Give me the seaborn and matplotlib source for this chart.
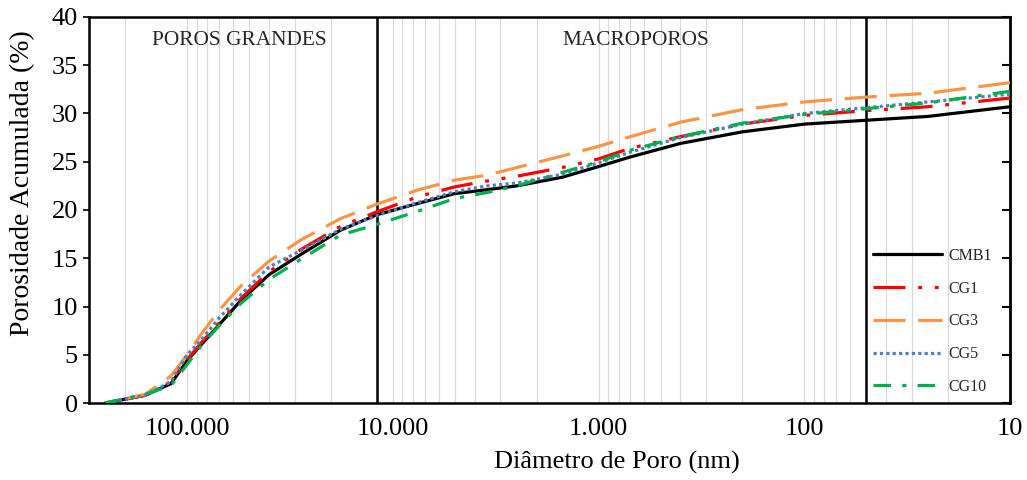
import matplotlib
matplotlib.use("Agg")
import matplotlib.pyplot as plt
from matplotlib.ticker import FixedLocator, LogLocator, NullFormatter
import numpy as np
import pandas as pd
import seaborn as sns

# pore diameter (nm) and cumulative porosity (%)
diametro = [250000, 160000, 120000, 100000, 85000, 70000, 55000, 40000, 28000, 18000,
            12000, 7500, 5000, 3500, 2500, 1500, 1000, 700, 400, 200, 100, 50, 25, 10]
cmb1 = [0, 0.8, 2.0, 4.4, 6.1, 8.1, 10.6, 13.3, 15.4, 17.9,
        19.5, 20.7, 21.7, 22.1, 22.5, 23.4, 24.5, 25.5, 26.9, 28.1, 28.9, 29.3, 29.7, 30.7]
cg1 = [0, 0.8, 2.2, 4.5, 6.3, 8.3, 10.8, 13.6, 15.9, 18.3,
       19.8, 21.4, 22.4, 23.0, 23.5, 24.4, 25.3, 26.4, 27.6, 28.9, 29.8, 30.3, 30.7, 31.6]
cg3 = [0, 0.9, 2.8, 5.0, 7.2, 9.6, 12.1, 14.7, 16.9, 19.1,
       20.6, 22.1, 23.1, 23.6, 24.4, 25.6, 26.6, 27.6, 29.1, 30.4, 31.2, 31.7, 32.1, 33.2]
cg5 = [0, 0.8, 2.2, 5.0, 6.6, 8.8, 11.2, 14.1, 15.8, 18.0,
       19.4, 20.8, 21.9, 22.5, 22.8, 23.7, 24.9, 26.0, 27.5, 28.9, 30.0, 30.6, 31.2, 32.0]
cg10 = [0, 0.9, 1.8, 4.0, 6.0, 8.0, 10.3, 12.8, 14.9, 17.4,
        18.5, 19.9, 21.2, 21.8, 22.5, 23.9, 25.0, 26.2, 27.6, 29.0, 29.9, 30.5, 31.1, 32.3]

series = ["CMB1", "CG1", "CG3", "CG5", "CG10"]
limites = [12000, 50]  # boundaries between pore classes
regioes = ["POROS GRANDES", "MACROPOROS"]
xticks = [100000, 10000, 1000, 100, 10]
xticklabels = ["100.000", "10.000", "1.000", "100", "10"]

cores = ["#000000", "#FF0000", "#F79646", "#4F81BD", "#00B050"]
estilos = ["-", (0, (10, 4, 1.2, 4, 1.2, 4)), (0, (10, 4)), (0, (1, 1)), (0, (5.5, 3.5, 1.3, 3.5))]

sns.set_theme(style="white")
plt.rcParams["font.family"] = ["Liberation Serif", "DejaVu Serif"]

fig = plt.figure(figsize=(10.27, 4.8), dpi=100)
ax = fig.add_axes([0.0867, 0.1604, 0.8968, 0.8042])

valores = [cmb1, cg1, cg3, cg5, cg10]
for nome, vals, cor, est in zip(series, valores, cores, estilos):
    df = pd.DataFrame({"d": diametro, "p": vals})
    sns.lineplot(data=df, x="d", y="p", ax=ax, color=cor, linewidth=2.3,
                 linestyle=est, label=nome, zorder=3)
for ln in ax.lines:
    ln.set_dash_capstyle("butt")

ax.set_xscale("log")
ax.set_xlim(300000, 10)
ax.set_ylim(0, 40)
ax.set_yticks(np.arange(0, 41, 5))
ax.xaxis.set_major_locator(FixedLocator(xticks))
ax.set_xticklabels(xticklabels)
ax.xaxis.set_minor_locator(LogLocator(base=10, subs=range(2, 10)))
ax.xaxis.set_minor_formatter(NullFormatter())
ax.grid(True, which="both", axis="x", color="#D9D9D9", linewidth=0.8, zorder=0)
ax.grid(False, axis="y")
ax.set_axisbelow(True)

for lim in limites:
    ax.axvline(lim, color="black", linewidth=1.8, zorder=2)

ax.text(0.163, 0.938, regioes[0], transform=ax.transAxes, ha="center", va="center", fontsize=15.3)
ax.text(0.594, 0.938, regioes[1], transform=ax.transAxes, ha="center", va="center", fontsize=15.3)

for s in ax.spines.values():
    s.set_color("black")
    s.set_linewidth(1.8)

ax.tick_params(axis="x", which="both", length=0, labelsize=19, pad=11, colors="black")
ax.tick_params(axis="y", length=4, width=1.2, direction="out", left=True, labelsize=19, pad=4, colors="black")
sec = ax.secondary_yaxis("right")
sec.set_yticks(np.arange(0, 41, 5))
sec.tick_params(direction="in", length=6, width=1.5, labelright=False, colors="black")
sec.spines["right"].set_linewidth(1.8)

ax.set_xlabel("Diâmetro de Poro (nm)", fontsize=19, color="black")
ax.set_ylabel("Porosidade Acumulada (%)", fontsize=20, color="black")
ax.xaxis.set_label_coords(0.573, -0.125)
ax.yaxis.set_label_coords(-0.058, 0.57)

ax.legend(loc="upper left", bbox_to_anchor=(0.851, 0.402), frameon=False, fontsize=11.5,
          handlelength=4.3, handletextpad=0.45, labelspacing=1.05, borderpad=0, borderaxespad=0)

fig.savefig("out.png", dpi=100)
plt.close(fig)
